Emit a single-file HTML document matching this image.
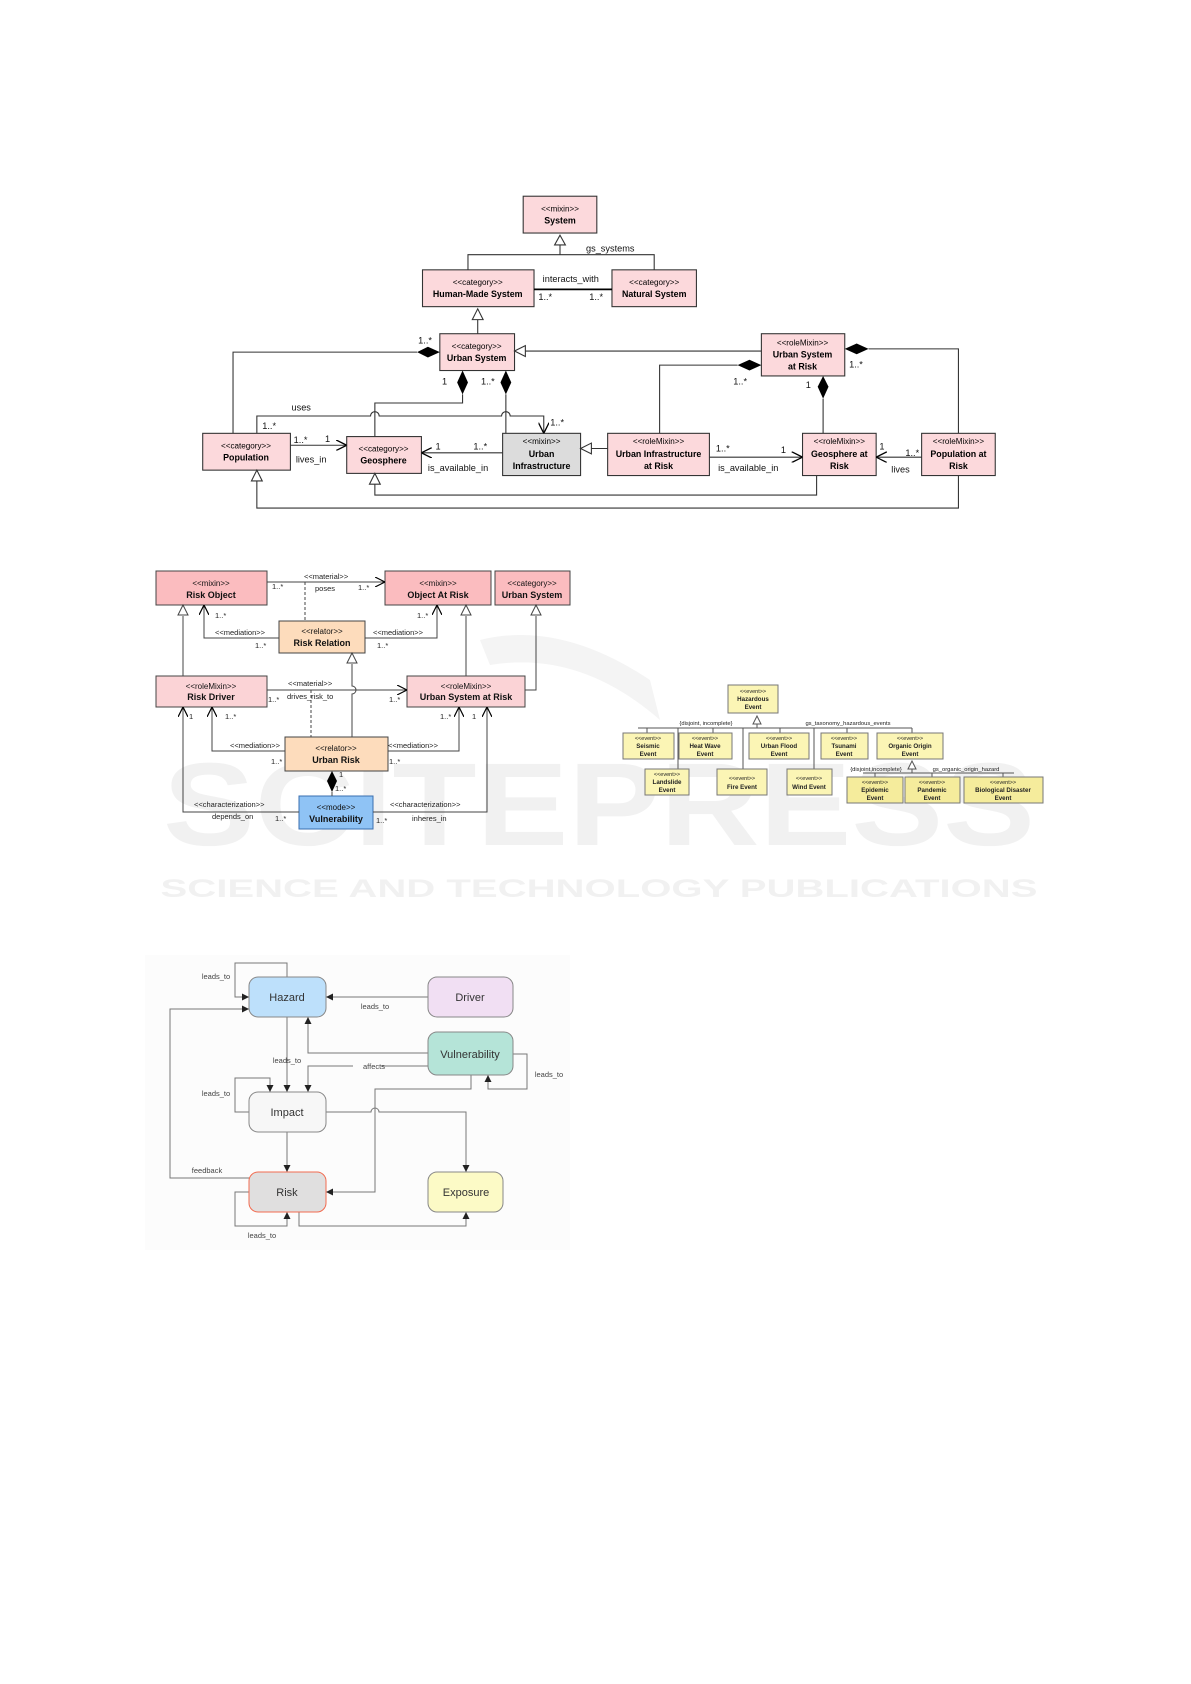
<!DOCTYPE html>
<html><head><meta charset="utf-8"><style>
html,body{margin:0;padding:0;background:#fff;}
svg{display:block;font-family:"Liberation Sans",sans-serif;}
</style></head><body>
<svg width="1191" height="1684" viewBox="0 0 1191 1684" xmlns="http://www.w3.org/2000/svg">
<defs>
<marker id="oa" viewBox="0 0 10 10" refX="10" refY="5" markerWidth="10" markerHeight="10" orient="auto" markerUnits="userSpaceOnUse"><path d="M0,0 L10,5 L0,10" fill="none" stroke="#000" stroke-width="1.2"/></marker>
<marker id="fa" viewBox="0 0 10 10" refX="10" refY="5" markerWidth="7" markerHeight="7" orient="auto" markerUnits="userSpaceOnUse"><path d="M0,0 L10,5 L0,10 z" fill="#222"/></marker>
</defs>

<!-- watermark -->
<g fill="#f1f1f1" font-weight="bold">
<text x="599" y="845" text-anchor="middle" font-size="118" textLength="872" lengthAdjust="spacingAndGlyphs">SCITEPRESS</text>
<text x="599" y="897" text-anchor="middle" font-size="25" textLength="877" lengthAdjust="spacingAndGlyphs">SCIENCE AND TECHNOLOGY PUBLICATIONS</text>
</g>
<path d="M480 640 Q560 620 650 680 L660 720 Q580 650 490 665 Z" fill="#f4f4f4"/>

<!-- ========== Diagram 1 ========== -->
<g transform="translate(-3,-3) scale(1.0827)" font-size="8.2" stroke-width="1">
<g stroke="#333" fill="#fcd9dc">
<rect x="486" y="184" width="68" height="34"/>
<rect x="393" y="252" width="103" height="34"/>
<rect x="568" y="252" width="78" height="34"/>
<rect x="409" y="311" width="69" height="34"/>
<rect x="706" y="311" width="77" height="39"/>
<rect x="190" y="403" width="81" height="34"/>
<rect x="323" y="406" width="69" height="34"/>
<rect x="467" y="403" width="72" height="39" fill="#dcdcdc"/>
<rect x="564" y="403" width="94" height="39"/>
<rect x="744" y="403" width="68" height="39"/>
<rect x="854" y="403" width="68" height="39"/>
</g>
<g text-anchor="middle" fill="#000">
<text x="520" y="198" font-size="7.5">&lt;&lt;mixin&gt;&gt;</text><text x="520" y="209" font-weight="bold">System</text>
<text x="444" y="266" font-size="7.5">&lt;&lt;category&gt;&gt;</text><text x="444" y="277" font-weight="bold">Human-Made System</text>
<text x="607" y="266" font-size="7.5">&lt;&lt;category&gt;&gt;</text><text x="607" y="277" font-weight="bold">Natural System</text>
<text x="443" y="325" font-size="7.5">&lt;&lt;category&gt;&gt;</text><text x="443" y="336" font-weight="bold">Urban System</text>
<text x="744" y="322" font-size="7.5">&lt;&lt;roleMixin&gt;&gt;</text><text x="744" y="333" font-weight="bold">Urban System</text><text x="744" y="344" font-weight="bold">at Risk</text>
<text x="230" y="417" font-size="7.5">&lt;&lt;category&gt;&gt;</text><text x="230" y="428" font-weight="bold">Population</text>
<text x="357" y="420" font-size="7.5">&lt;&lt;category&gt;&gt;</text><text x="357" y="431" font-weight="bold">Geosphere</text>
<text x="503" y="413" font-size="7.5">&lt;&lt;mixin&gt;&gt;</text><text x="503" y="425" font-weight="bold">Urban</text><text x="503" y="436" font-weight="bold">Infrastructure</text>
<text x="611" y="413" font-size="7.5">&lt;&lt;roleMixin&gt;&gt;</text><text x="611" y="425" font-weight="bold">Urban Infrastructure</text><text x="611" y="436" font-weight="bold">at Risk</text>
<text x="778" y="413" font-size="7.5">&lt;&lt;roleMixin&gt;&gt;</text><text x="778" y="425" font-weight="bold">Geosphere at</text><text x="778" y="436" font-weight="bold">Risk</text>
<text x="888" y="413" font-size="7.5">&lt;&lt;roleMixin&gt;&gt;</text><text x="888" y="425" font-weight="bold">Population at</text><text x="888" y="436" font-weight="bold">Risk</text>
</g>
<g fill="none" stroke="#333">
<path d="M520 229 V238 M435 252 V238 H607 V252"/>
<path d="M496 270 H568" stroke="#000" stroke-width="1.6"/>
<path d="M444 298 V311"/>
<path d="M488 327 H706"/>
<path d="M218 403 V328 H388"/>
<path d="M430 367 V375 H349 V406"/>
<path d="M470 367 V403"/>
<path d="M240 403 V387 H345 A4 4 0 0 1 353 387 H466 A4 4 0 0 1 474 387 H505 V403" marker-end="url(#oa)"/>
<path d="M271 414 H323" marker-end="url(#oa)"/>
<path d="M467 421 H392" marker-end="url(#oa)"/>
<path d="M549 417 H564"/>
<path d="M658 425 H744" marker-end="url(#oa)"/>
<path d="M854 425 H812" marker-end="url(#oa)"/>
<path d="M612 403 V340 H684"/>
<path d="M763 403 V371"/>
<path d="M888 403 V325 H805"/>
<path d="M757 442 V460 H349 V450"/>
<path d="M888 442 V472 H240 V447"/>
</g>
<g fill="#fff" stroke="#333">
<polygon points="520,220 515,229 525,229"/>
<polygon points="444,288 439,298 449,298"/>
<polygon points="478,327 488,322 488,332"/>
<polygon points="539,417 549,412 549,422"/>
<polygon points="349,440 344,450 354,450"/>
<polygon points="240,437 235,447 245,447"/>
</g>
<g fill="#000">
<polygon points="409,328 398,323 388,328 398,333"/>
<polygon points="430,345 435,356 430,367 425,356"/>
<polygon points="470,345 475,356 470,367 465,356"/>
<polygon points="706,340 695,335 684,340 695,345"/>
<polygon points="763,350 768,360 763,371 758,360"/>
<polygon points="783,325 794,320 805,325 794,330"/>
</g>
<g fill="#111" font-size="8.5">
<text x="544" y="235">gs_systems</text>
<text x="504" y="263">interacts_with</text>
<text x="500" y="280">1..*</text><text x="547" y="280">1..*</text>
<text x="389" y="320">1..*</text>
<text x="411" y="358">1</text><text x="447" y="358">1..*</text>
<text x="272" y="382">uses</text>
<text x="245" y="399">1..*</text><text x="511" y="396">1..*</text>
<text x="274" y="412">1..*</text><text x="303" y="411">1</text>
<text x="276" y="430">lives_in</text>
<text x="405" y="418">1</text><text x="440" y="418">1..*</text>
<text x="398" y="438">is_available_in</text>
<text x="664" y="420">1..*</text><text x="724" y="421">1</text>
<text x="666" y="438">is_available_in</text>
<text x="815" y="418">1</text><text x="839" y="424">1..*</text>
<text x="826" y="439">lives</text>
<text x="680" y="358">1..*</text><text x="747" y="361">1</text>
<text x="787" y="342">1..*</text>
</g>
</g>

<!-- ========== Diagram 2 ========== -->
<g font-size="9">
<g stroke="#444">
<rect x="156" y="571" width="111" height="34" fill="#fbbcbf"/>
<rect x="385" y="571" width="106" height="34" fill="#fbbcbf"/>
<rect x="495" y="571" width="75" height="34" fill="#fbbcbf"/>
<rect x="279" y="621" width="86" height="32" fill="#fddcbc"/>
<rect x="156" y="676" width="111" height="31" fill="#fbd3d6"/>
<rect x="407" y="676" width="118" height="31" fill="#fbd3d6"/>
<rect x="285" y="737" width="103" height="34" fill="#fddcbc"/>
<rect x="299" y="796" width="74" height="33" fill="#8fc3f5" stroke="#3a6fb0"/>
</g>
<g text-anchor="middle" fill="#111">
<text x="211" y="586" font-size="8">&lt;&lt;mixin&gt;&gt;</text><text x="211" y="598" font-weight="bold">Risk Object</text>
<text x="438" y="586" font-size="8">&lt;&lt;mixin&gt;&gt;</text><text x="438" y="598" font-weight="bold">Object At Risk</text>
<text x="532" y="586" font-size="8">&lt;&lt;category&gt;&gt;</text><text x="532" y="598" font-weight="bold">Urban System</text>
<text x="322" y="634" font-size="8">&lt;&lt;relator&gt;&gt;</text><text x="322" y="646" font-weight="bold">Risk Relation</text>
<text x="211" y="689" font-size="8">&lt;&lt;roleMixin&gt;&gt;</text><text x="211" y="700" font-weight="bold">Risk Driver</text>
<text x="466" y="689" font-size="8">&lt;&lt;roleMixin&gt;&gt;</text><text x="466" y="700" font-weight="bold">Urban System at Risk</text>
<text x="336" y="751" font-size="8">&lt;&lt;relator&gt;&gt;</text><text x="336" y="763" font-weight="bold">Urban Risk</text>
<text x="336" y="810" font-size="8">&lt;&lt;mode&gt;&gt;</text><text x="336" y="822" font-weight="bold">Vulnerability</text>
</g>
<g fill="none" stroke="#444">
<path d="M267 582 H385" marker-end="url(#oa)"/>
<path d="M305 582 V621" stroke-dasharray="3,2"/>
<path d="M279 638 H204 V605" marker-end="url(#oa)"/>
<path d="M365 638 H437 V605" marker-end="url(#oa)"/>
<path d="M183 676 V616 M466 676 V616 M525 690 H536 V616"/>
<path d="M352 737 V694 A4 4 0 0 0 352 686 V664"/>
<path d="M267 690 H407" marker-end="url(#oa)"/>
<path d="M311 690 V737" stroke-dasharray="3,2"/>
<path d="M285 751 H212 V707" marker-end="url(#oa)"/>
<path d="M388 751 H459 V707" marker-end="url(#oa)"/>
<path d="M332 792 V796"/>
<path d="M299 812 H183 V707" marker-end="url(#oa)"/>
<path d="M373 812 H487 V707" marker-end="url(#oa)"/>
</g>
<g fill="#fff" stroke="#444">
<polygon points="183,605 178,615 188,615"/>
<polygon points="466,605 461,615 471,615"/>
<polygon points="536,605 531,615 541,615"/>
<polygon points="352,653 347,663 357,663"/>
</g>
<polygon points="332,771 337,781 332,792 327,781" fill="#000"/>
<g fill="#222" font-size="7.5">
<text x="304" y="579">&lt;&lt;material&gt;&gt;</text><text x="315" y="591">poses</text>
<text x="272" y="589">1..*</text><text x="358" y="590">1..*</text>
<text x="215" y="618">1..*</text><text x="417" y="618">1..*</text>
<text x="215" y="635">&lt;&lt;mediation&gt;&gt;</text><text x="373" y="635">&lt;&lt;mediation&gt;&gt;</text>
<text x="255" y="648">1..*</text><text x="377" y="648">1..*</text>
<text x="288" y="686">&lt;&lt;material&gt;&gt;</text><text x="287" y="699">drives_risk_to</text>
<text x="268" y="702">1..*</text><text x="389" y="702">1..*</text>
<text x="189" y="719">1</text><text x="225" y="719">1..*</text>
<text x="440" y="719">1..*</text><text x="472" y="719">1</text>
<text x="230" y="748">&lt;&lt;mediation&gt;&gt;</text><text x="388" y="748">&lt;&lt;mediation&gt;&gt;</text>
<text x="271" y="764">1..*</text><text x="389" y="764">1..*</text>
<text x="339" y="777">1</text><text x="335" y="791">1..*</text>
<text x="194" y="807">&lt;&lt;characterization&gt;&gt;</text><text x="212" y="819">depends_on</text>
<text x="275" y="821">1..*</text>
<text x="390" y="807">&lt;&lt;characterization&gt;&gt;</text><text x="412" y="821">inheres_in</text>
<text x="376" y="823">1..*</text>
</g>
</g>

<!-- ========== Diagram 3 ========== -->
<g font-size="6.2">
<g fill="none" stroke="#555">
<path d="M757 724 V728 M638 728 H912"/>
<path d="M647 728 V733 M678 728 V769 M713 728 V733 M743 728 V769 M780 728 V733 M814 728 V769 M847 728 V733 M912 728 V733"/>
<path d="M912 769 V773 M863 773 H1014 M875 773 V777 M932 773 V777 M1003 773 V777"/>
</g>
<g stroke="#777" fill="#fbf5b5">
<rect x="728" y="685" width="50" height="28"/>
<rect x="623" y="733" width="51" height="26"/>
<rect x="679" y="733" width="53" height="26"/>
<rect x="749" y="733" width="60" height="26"/>
<rect x="821" y="733" width="47" height="26"/>
<rect x="877" y="733" width="66" height="26"/>
<rect x="645" y="769" width="44" height="26"/>
<rect x="717" y="769" width="50" height="26"/>
<rect x="787" y="769" width="45" height="26"/>
<rect x="847" y="777" width="56" height="26" fill="#f5ec9c"/>
<rect x="905" y="777" width="55" height="26" fill="#f5ec9c"/>
<rect x="964" y="777" width="79" height="26" fill="#f5ec9c"/>
</g>
<g fill="#fff" stroke="#555">
<polygon points="757,716 753,724 761,724"/>
<polygon points="912,761 908,769 916,769"/>
</g>
<g text-anchor="middle" fill="#222">
<text x="753" y="693" font-size="5.5">&lt;&lt;event&gt;&gt;</text><text x="753" y="701" font-weight="bold">Hazardous</text><text x="753" y="709" font-weight="bold">Event</text>
<text x="648" y="740" font-size="5.5">&lt;&lt;event&gt;&gt;</text><text x="648" y="748" font-weight="bold">Seismic</text><text x="648" y="756" font-weight="bold">Event</text>
<text x="705" y="740" font-size="5.5">&lt;&lt;event&gt;&gt;</text><text x="705" y="748" font-weight="bold">Heat  Wave</text><text x="705" y="756" font-weight="bold">Event</text>
<text x="779" y="740" font-size="5.5">&lt;&lt;event&gt;&gt;</text><text x="779" y="748" font-weight="bold">Urban Flood</text><text x="779" y="756" font-weight="bold">Event</text>
<text x="844" y="740" font-size="5.5">&lt;&lt;event&gt;&gt;</text><text x="844" y="748" font-weight="bold">Tsunami</text><text x="844" y="756" font-weight="bold">Event</text>
<text x="910" y="740" font-size="5.5">&lt;&lt;event&gt;&gt;</text><text x="910" y="748" font-weight="bold">Organic Origin</text><text x="910" y="756" font-weight="bold">Event</text>
<text x="667" y="776" font-size="5.5">&lt;&lt;event&gt;&gt;</text><text x="667" y="784" font-weight="bold">Landslide</text><text x="667" y="792" font-weight="bold">Event</text>
<text x="742" y="780" font-size="5.5">&lt;&lt;event&gt;&gt;</text><text x="742" y="789" font-weight="bold">Fire Event</text>
<text x="809" y="780" font-size="5.5">&lt;&lt;event&gt;&gt;</text><text x="809" y="789" font-weight="bold">Wind Event</text>
<text x="875" y="784" font-size="5.5">&lt;&lt;event&gt;&gt;</text><text x="875" y="792" font-weight="bold">Epidemic</text><text x="875" y="800" font-weight="bold">Event</text>
<text x="932" y="784" font-size="5.5">&lt;&lt;event&gt;&gt;</text><text x="932" y="792" font-weight="bold">Pandemic</text><text x="932" y="800" font-weight="bold">Event</text>
<text x="1003" y="784" font-size="5.5">&lt;&lt;event&gt;&gt;</text><text x="1003" y="792" font-weight="bold">Biological Disaster</text><text x="1003" y="800" font-weight="bold">Event</text>
<text x="706" y="725" font-size="5.8">{disjoint, incomplete}</text>
<text x="848" y="725" font-size="5.8">gs_taxonomy_hazardous_events</text>
<text x="876" y="771" font-size="5.8">{disjoint,incomplete}</text>
<text x="966" y="771" font-size="5.8">gs_organic_origin_hazard</text>
</g>
</g>

<!-- ========== Diagram 4 ========== -->
<g font-size="7.5">
<rect x="145" y="955" width="425" height="295" fill="#fcfcfc"/>
<g fill="none" stroke="#777" stroke-width="1">
<path d="M287 977 V963 H235 V997 H249" marker-end="url(#fa)"/>
<path d="M428 997 H326" marker-end="url(#fa)"/>
<path d="M249 1178 H170 V1009 H249" marker-end="url(#fa)"/>
<path d="M428 1053 H308 V1017" marker-end="url(#fa)"/>
<path d="M287 1017 V1092" marker-end="url(#fa)"/>
<path d="M428 1066 H308 V1092" marker-end="url(#fa)"/>
<path d="M249 1112 H235 V1078 H270 V1092" marker-end="url(#fa)"/>
<path d="M513 1054 H527 V1089 H488 V1075" marker-end="url(#fa)"/>
<path d="M471 1075 V1089 H375 V1192 H326" marker-end="url(#fa)"/>
<path d="M326 1112 H371 A4 4 0 0 1 379 1112 H466 V1172" marker-end="url(#fa)"/>
<path d="M287 1132 V1172" marker-end="url(#fa)"/>
<path d="M249 1192 H235 V1226 H287 V1212" marker-end="url(#fa)"/>
<path d="M299 1212 V1226 H466 V1212" marker-end="url(#fa)"/>
</g>
<g stroke-width="1">
<rect x="249" y="977" width="77" height="40" rx="9" fill="#bde0fb" stroke="#888"/>
<rect x="428" y="977" width="85" height="40" rx="9" fill="#f1dff3" stroke="#888"/>
<rect x="428" y="1032" width="85" height="43" rx="9" fill="#b5e4d8" stroke="#888"/>
<rect x="249" y="1092" width="77" height="40" rx="9" fill="#f7f7f7" stroke="#888"/>
<rect x="249" y="1172" width="77" height="40" rx="9" fill="#e0dfdf" stroke="#f26b50"/>
<rect x="428" y="1172" width="75" height="40" rx="9" fill="#fcfac6" stroke="#888"/>
</g>
<g text-anchor="middle" fill="#333" font-size="11">
<text x="287" y="1001">Hazard</text>
<text x="470" y="1001">Driver</text>
<text x="470" y="1058">Vulnerability</text>
<text x="287" y="1116">Impact</text>
<text x="287" y="1196">Risk</text>
<text x="466" y="1196">Exposure</text>
</g>
<g fill="#444" text-anchor="middle" font-size="7.5">
<rect x="353" y="1060" width="28" height="9" fill="#fcfcfc"/>
<text x="216" y="979">leads_to</text>
<text x="375" y="1009">leads_to</text>
<text x="287" y="1063">leads_to</text>
<text x="374" y="1069">affects</text>
<text x="216" y="1096">leads_to</text>
<text x="549" y="1077">leads_to</text>
<text x="207" y="1173">feedback</text>
<text x="262" y="1238">leads_to</text>
</g>
</g>
</svg>
</body></html>
